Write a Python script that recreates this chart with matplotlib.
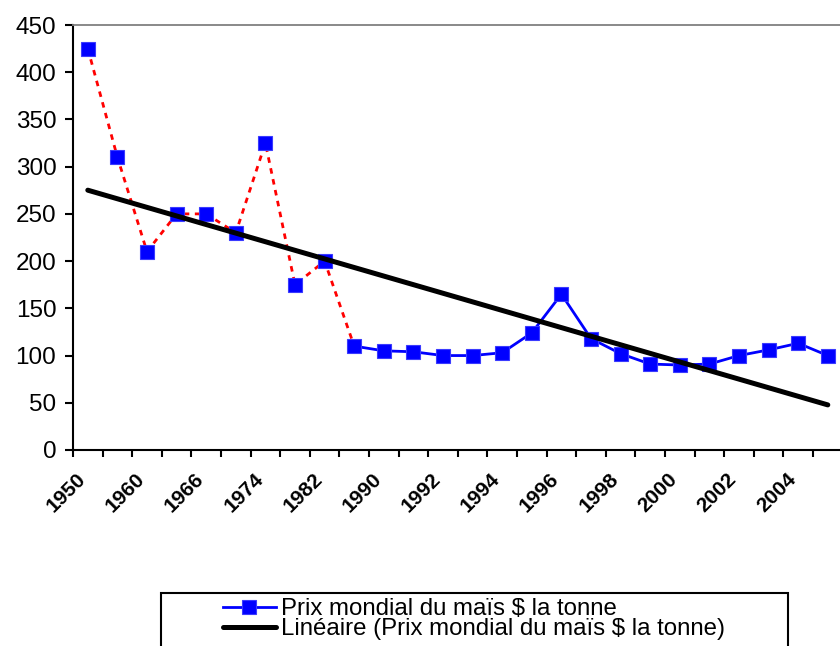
import numpy as np
import matplotlib
matplotlib.use('Agg')
import matplotlib.pyplot as plt
from matplotlib.patches import Rectangle
from matplotlib.transforms import ScaledTranslation

plt.rcParams['font.family'] = ['Liberation Sans', 'DejaVu Sans']

# annees (une etiquette sur deux est affichee, comme dans le tableur)
years = ['1950', '1955', '1960', '1963', '1966', '1970', '1974', '1978', '1982', '1986',
         '1990', '1991', '1992', '1993', '1994', '1995', '1996', '1997', '1998', '1999',
         '2000', '2001', '2002', '2003', '2004', '2005']
# prix mondial du mais, $ la tonne
price = [425, 310, 210, 250, 250, 230, 325, 175, 200, 110,
         105, 104, 100, 100, 103, 124, 165, 118, 102, 91,
         90, 91, 100, 106, 113, 100]
# les premieres annees sont reliees en pointille rouge
n_dotted = 10

label_price = 'Prix mondial du maïs $ la tonne'
label_trend = 'Linéaire (Prix mondial du maïs $ la tonne)'

x = np.arange(len(years))
y = np.array(price, dtype=float)

fig = plt.figure(figsize=(8.4, 6.46), dpi=100)
ax = fig.add_axes([73 / 840, 196 / 646, 769.6 / 840, 425 / 646])

blue = '#0000FF'
red = '#FF0000'

ax.plot(x[:n_dotted], y[:n_dotted], color=red, lw=2, linestyle=(0, (2, 2)), zorder=2)
ax.plot(x[:n_dotted - 1], y[:n_dotted - 1], linestyle='none', marker='s', ms=10.5,
        mfc=blue, mec='#3a3aff', mew=0.8, zorder=3)
line_price, = ax.plot(x[n_dotted - 1:], y[n_dotted - 1:], color=blue, lw=2, marker='s',
                      ms=10.5, mfc=blue, mec='#3a3aff', mew=0.8, zorder=3)

# droite de tendance lineaire
slope, intercept = np.polyfit(x, y, 1)
line_trend, = ax.plot(x, slope * x + intercept, color='black', lw=3.6,
                      solid_capstyle='round', zorder=4)

ax.set_xlim(-0.5, len(years) - 0.5)
ax.set_ylim(0, 450)
ax.set_yticks(np.arange(0, 451, 50))
ax.tick_params(axis='y', direction='out', length=6, width=1.5, pad=6, labelsize=17.5)

ax.set_xticks(x[::2])
ax.set_xticklabels(years[::2], rotation=45, ha='right', va='top',
                   rotation_mode='anchor', fontweight='bold', fontsize=15)
ax.set_xticks(np.arange(-0.5, len(years), 1), minor=True)
ax.tick_params(axis='x', which='major', length=0, pad=14)
ax.tick_params(axis='x', which='minor', direction='out', length=5, width=1.5)
shift = ScaledTranslation(-0.12, 0, fig.dpi_scale_trans)
for lab in ax.get_xticklabels():
    lab.set_transform(lab.get_transform() + shift)

for side in ['left', 'bottom']:
    ax.spines[side].set_linewidth(1.5)
    ax.spines[side].set_color('black')
ax.spines['top'].set_color('#808080')
ax.spines['top'].set_linewidth(1.3)
ax.spines['right'].set_visible(False)

fig.legend([line_price, line_trend], [label_price, label_trend],
           loc='upper left', bbox_to_anchor=(223 / 840, 1 - 598 / 646),
           frameon=False, fontsize=17.3, handlelength=2.2, handletextpad=0.2,
           labelspacing=-0.08, borderpad=0, borderaxespad=0)
fig.add_artist(Rectangle((161 / 840, -0.05), (788 - 161) / 840, (646 - 593) / 646 + 0.05,
                         transform=fig.transFigure, fill=False, ec='black', lw=1.5))

fig.savefig('out.png', dpi=100)
